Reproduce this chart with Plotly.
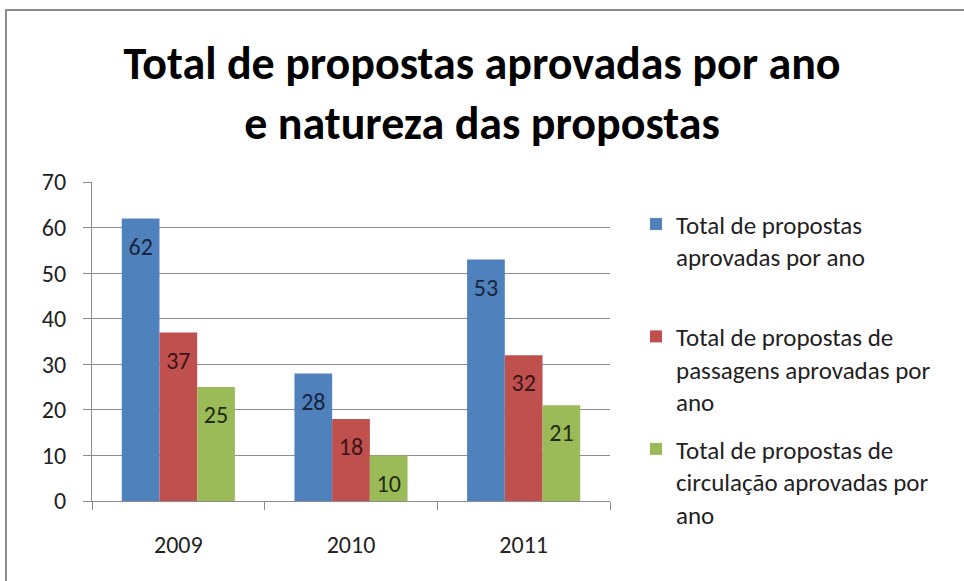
import plotly.graph_objects as go

years = ["2009", "2010", "2011"]
series_names = [
    "Total de propostas<br>aprovadas por ano<br>&nbsp;",
    "Total de propostas de<br>passagens aprovadas por<br>ano",
    "Total de propostas de<br>circulação aprovadas por<br>ano",
]
total_aprovadas = [62, 28, 53]
passagens_aprovadas = [37, 18, 32]
circulacao_aprovadas = [25, 10, 21]

colors = ["#4F81BD", "#C0504D", "#9BBB59"]
text_colors = ["#17263d", "#3b1515", "#1f2b10"]
FONT = "Carlito, Calibri, Lato, sans-serif"

fig = go.Figure()
for i, (name, vals) in enumerate(zip(series_names,
                                     [total_aprovadas, passagens_aprovadas, circulacao_aprovadas])):
    fig.add_trace(go.Bar(
        x=years, y=vals, name=name,
        marker=dict(color=colors[i], line=dict(width=0)),
        text=vals,
        texttemplate="<span style='font-size:2px'>&nbsp;</span><br>%{y}",
        textposition="inside", insidetextanchor="end", constraintext="none",
        textfont=dict(family=FONT, size=24, color=text_colors[i]),
        legendgroup=str(i),
        hoverinfo="skip",
    ))

fig.update_layout(
    width=964, height=581,
    margin=dict(l=92, r=354, t=182, b=80),
    paper_bgcolor="white", plot_bgcolor="white",
    barmode="group", bargap=0.345, bargroupgap=0,
    font=dict(family=FONT, color="#222222"),
    title=dict(
        text="Total de propostas aprovadas por ano<br>e natureza das propostas",
        font=dict(family=FONT, size=46, color="#000000", weight="bold"),
        x=0.5, xanchor="center", xref="container",
        y=1 - 79 / 581, yanchor="top", yref="container",
    ),
    showlegend=True,
    legend=dict(
        x=(636 - 92) / 518, xanchor="left", y=0.94, yanchor="top",
        font=dict(family=FONT, size=25, color="#222222"),
        traceorder="grouped", tracegroupgap=12, valign="top",
        itemwidth=30, bgcolor="rgba(0,0,0,0)", maxheight=500,
    ),
    xaxis=dict(
        type="category", showline=True, linecolor="#8c8c8c", linewidth=1,
        ticks="outside", tickson="boundaries", ticklen=8, tickcolor="#8c8c8c",
        tickfont=dict(family=FONT, size=24, color="#222222"),
        ticklabelstandoff=22, showgrid=False,
    ),
    yaxis=dict(
        range=[0, 70], dtick=10, showline=True, linecolor="#8c8c8c", linewidth=1,
        ticks="outside", ticklen=8, tickcolor="#8c8c8c",
        showgrid=True, gridcolor="#8c8c8c", gridwidth=1, zeroline=False,
        tickfont=dict(family=FONT, size=24, color="#222222"),
        ticklabelstandoff=12,
    ),
    shapes=[dict(
        type="rect", xref="paper", yref="paper",
        x0=(6 - 92) / 518, x1=(975 - 92) / 518,
        y0=(501 - 600) / 319, y1=1 + (182 - 10) / 319,
        line=dict(color="#8c8c8c", width=2), fillcolor="rgba(0,0,0,0)", layer="below",
    )],
)

fig.write_html("out.html", config={"displayModeBar": False},
               post_script="document.body.style.margin='0';")
